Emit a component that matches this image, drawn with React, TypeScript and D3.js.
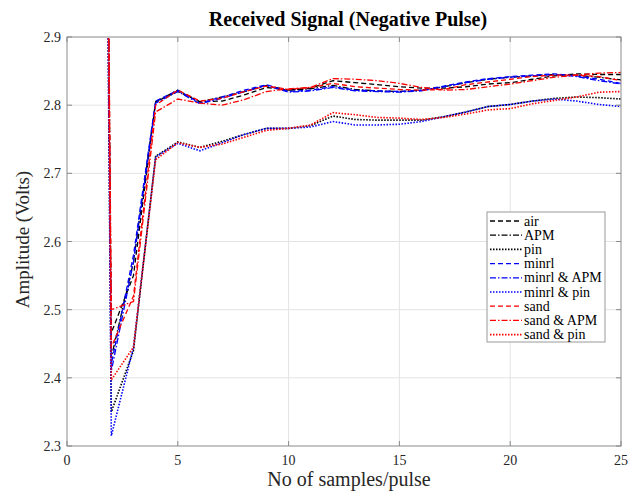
import React, { useEffect, useRef } from "react";
import * as d3 from "d3";

// Sample index (samples per pulse)
const samples = [1, 2, 3, 4, 5, 6, 7, 8, 9, 10, 11, 12, 13, 14, 15, 16, 17, 18, 19, 20, 21, 22, 23, 24, 25];

// Received amplitude (Volts) per configuration
const air = [6.3, 2.466, 2.55, 2.805, 2.82, 2.805, 2.806, 2.815, 2.826, 2.822, 2.825, 2.836, 2.833, 2.83, 2.827, 2.825, 2.825, 2.827, 2.831, 2.833, 2.838, 2.843, 2.846, 2.845, 2.845];
const apm = [6.3, 2.43, 2.57, 2.805, 2.822, 2.805, 2.812, 2.82, 2.829, 2.822, 2.824, 2.829, 2.823, 2.821, 2.82, 2.822, 2.827, 2.833, 2.838, 2.841, 2.843, 2.845, 2.844, 2.841, 2.837];
const pin = [6.3, 2.35, 2.44, 2.725, 2.746, 2.738, 2.747, 2.757, 2.766, 2.766, 2.77, 2.784, 2.779, 2.778, 2.778, 2.778, 2.783, 2.79, 2.798, 2.801, 2.806, 2.81, 2.812, 2.811, 2.809];
const minrl = [6.3, 2.42, 2.58, 2.806, 2.822, 2.803, 2.812, 2.822, 2.83, 2.82, 2.822, 2.827, 2.822, 2.821, 2.82, 2.822, 2.828, 2.834, 2.839, 2.842, 2.844, 2.846, 2.843, 2.838, 2.832];
const minrlApm = [6.3, 2.41, 2.57, 2.803, 2.82, 2.802, 2.81, 2.82, 2.829, 2.819, 2.821, 2.826, 2.821, 2.82, 2.819, 2.821, 2.827, 2.833, 2.838, 2.841, 2.843, 2.845, 2.842, 2.836, 2.831];
const minrlPin = [6.3, 2.315, 2.445, 2.724, 2.744, 2.733, 2.745, 2.757, 2.766, 2.766, 2.768, 2.776, 2.771, 2.771, 2.772, 2.776, 2.783, 2.79, 2.798, 2.801, 2.806, 2.809, 2.806, 2.801, 2.798];
const sand = [6.3, 2.445, 2.52, 2.8, 2.822, 2.806, 2.81, 2.82, 2.828, 2.823, 2.826, 2.832, 2.827, 2.825, 2.823, 2.822, 2.823, 2.83, 2.834, 2.838, 2.842, 2.844, 2.844, 2.842, 2.836];
const sandApm = [6.3, 2.5, 2.512, 2.79, 2.809, 2.803, 2.8, 2.808, 2.82, 2.824, 2.826, 2.839, 2.838, 2.836, 2.832, 2.826, 2.822, 2.823, 2.827, 2.831, 2.836, 2.841, 2.844, 2.847, 2.848];
const sandPin = [6.3, 2.397, 2.445, 2.72, 2.745, 2.738, 2.743, 2.753, 2.763, 2.766, 2.771, 2.789, 2.786, 2.782, 2.781, 2.779, 2.782, 2.787, 2.793, 2.795, 2.802, 2.807, 2.812, 2.819, 2.82];

const seriesNames = ["air", "APM", "pin", "minrl", "minrl & APM", "minrl & pin", "sand", "sand & APM", "sand & pin"];
const seriesValues = [air, apm, pin, minrl, minrlApm, minrlPin, sand, sandApm, sandPin];
const seriesColors = ["#000000", "#000000", "#000000", "#0000ff", "#0000ff", "#0000ff", "#ff0000", "#ff0000", "#ff0000"];
const seriesDash = ["5,3", "6,2,1.5,2", "1.5,1.5", "5,3", "6,2,1.5,2", "1.5,1.5", "5,3", "6,2,1.5,2", "1.5,1.5"];
const seriesWidth = [1.3, 1.3, 1.6, 1.3, 1.3, 1.6, 1.3, 1.3, 1.6];

const xTicks = [0, 5, 10, 15, 20, 25];
const yTicks = [2.3, 2.4, 2.5, 2.6, 2.7, 2.8, 2.9];

const W = 628;
const H = 492;
const margin = { left: 67, right: 7, top: 37, bottom: 46 };
const FONT = "'Liberation Serif', 'Times New Roman', serif";

export default function App() {
  const ref = useRef<SVGSVGElement>(null);

  useEffect(() => {
    const svg = d3.select(ref.current);
    svg.selectAll("*").remove();

    const x = d3.scaleLinear().domain([0, 25]).range([margin.left, W - margin.right]);
    const y = d3.scaleLinear().domain([2.3, 2.9]).range([H - margin.bottom, margin.top]);
    const [x0, x1] = x.range();
    const [y0, y1] = y.range();

    svg.append("rect").attr("width", W).attr("height", H).attr("fill", "#fff");

    svg.append("defs").append("clipPath").attr("id", "plot-clip")
      .append("rect").attr("x", x0).attr("y", y1).attr("width", x1 - x0).attr("height", y0 - y1);

    // grid
    const grid = svg.append("g").attr("stroke", "#e3e3e3").attr("stroke-width", 1);
    grid.selectAll("line.gx").data(xTicks.slice(1, -1)).join("line")
      .attr("x1", (d) => x(d)).attr("x2", (d) => x(d)).attr("y1", y1).attr("y2", y0);
    grid.selectAll("line.gy").data(yTicks.slice(1, -1)).join("line")
      .attr("x1", x0).attr("x2", x1).attr("y1", (d) => y(d)).attr("y2", (d) => y(d));

    // series
    const line = d3.line<number>().x((_, i) => x(samples[i])).y((d) => y(d));
    const plot = svg.append("g").attr("clip-path", "url(#plot-clip)");
    seriesValues.forEach((vals, i) => {
      plot.append("path")
        .attr("d", line(vals))
        .attr("fill", "none")
        .attr("stroke", seriesColors[i])
        .attr("stroke-width", seriesWidth[i])
        .attr("stroke-dasharray", seriesDash[i]);
    });

    // axes box and ticks
    const axisColor = "#8a8a8a";
    svg.append("rect").attr("x", x0).attr("y", y1).attr("width", x1 - x0).attr("height", y0 - y1)
      .attr("fill", "none").attr("stroke", axisColor).attr("stroke-width", 1);
    const tk = svg.append("g").attr("stroke", axisColor).attr("stroke-width", 1);
    xTicks.forEach((t) => {
      tk.append("line").attr("x1", x(t)).attr("x2", x(t)).attr("y1", y0).attr("y2", y0 - 5);
      tk.append("line").attr("x1", x(t)).attr("x2", x(t)).attr("y1", y1).attr("y2", y1 + 5);
    });
    yTicks.forEach((t) => {
      tk.append("line").attr("x1", x0).attr("x2", x0 + 5).attr("y1", y(t)).attr("y2", y(t));
      tk.append("line").attr("x1", x1).attr("x2", x1 - 5).attr("y1", y(t)).attr("y2", y(t));
    });

    const fmt = d3.format(".1f");
    svg.append("g").selectAll("text").data(yTicks).join("text")
      .attr("x", x0 - 6).attr("y", (d) => y(d) + 5)
      .attr("text-anchor", "end").attr("font-family", FONT).attr("font-size", 14).attr("fill", "#262626")
      .text((d) => fmt(d));
    svg.append("g").selectAll("text").data(xTicks).join("text")
      .attr("x", (d) => x(d)).attr("y", y0 + 19)
      .attr("text-anchor", "middle").attr("font-family", FONT).attr("font-size", 14).attr("fill", "#262626")
      .text((d) => String(d));

    // titles
    svg.append("text").attr("x", (x0 + x1) / 2 + 4).attr("y", 26)
      .attr("text-anchor", "middle").attr("font-family", FONT).attr("font-size", 20).attr("font-weight", "bold")
      .attr("fill", "#000").text("Received Signal (Negative Pulse)");
    svg.append("text").attr("x", (x0 + x1) / 2 + 5).attr("y", 486)
      .attr("text-anchor", "middle").attr("font-family", FONT).attr("font-size", 20)
      .attr("fill", "#262626").text("No of samples/pulse");
    svg.append("text").attr("transform", `translate(29,${(y0 + y1) / 2 - 2}) rotate(-90)`)
      .attr("text-anchor", "middle").attr("font-family", FONT).attr("font-size", 19)
      .attr("fill", "#262626").text("Amplitude (Volts)");

    // legend
    const lg = svg.append("g").attr("transform", "translate(487,212)");
    lg.append("rect").attr("width", 118).attr("height", 130)
      .attr("fill", "#fff").attr("stroke", "#999").attr("stroke-width", 1);
    seriesNames.forEach((name, i) => {
      const yy = 9 + i * 14.2;
      lg.append("line").attr("x1", 3).attr("x2", 35).attr("y1", yy).attr("y2", yy)
        .attr("stroke", seriesColors[i]).attr("stroke-width", seriesWidth[i]).attr("stroke-dasharray", seriesDash[i]);
      lg.append("text").attr("x", 37).attr("y", yy + 4.5)
        .attr("font-family", FONT).attr("font-size", 14).attr("fill", "#000").text(name);
    });
  }, []);

  return (
    <svg ref={ref} width={W} height={H} style={{ position: "absolute", left: 0, top: 0 }} />
  );
}
